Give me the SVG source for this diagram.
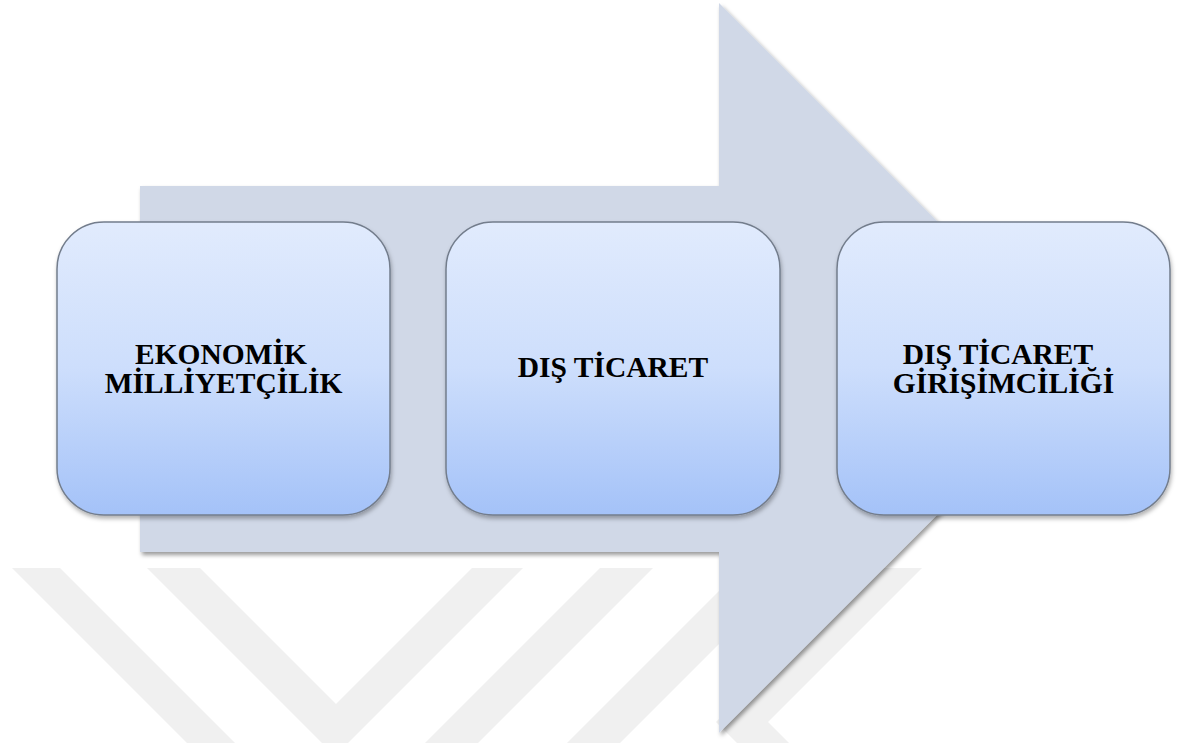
<svg xmlns="http://www.w3.org/2000/svg" width="1177" height="743" viewBox="0 0 1177 743">
  <style>
    .wm { fill: #f0f0f0; }
    .box { fill: url(#boxGrad); stroke: #737d8c; stroke-width: 1.5; filter: url(#boxShadow); }
    .lbl { font-family: "Liberation Serif", "Times New Roman", serif; font-weight: bold; font-size: 29.5px; fill: #000000; text-anchor: middle; }
  </style>
  <defs>
    <linearGradient id="boxGrad" x1="0" y1="0" x2="0" y2="1">
      <stop offset="0" stop-color="#e1ebfd"/>
      <stop offset="0.5" stop-color="#cddefc"/>
      <stop offset="1" stop-color="#a4c2f8"/>
    </linearGradient>
    <filter id="arrowShadow" x="-5%" y="-5%" width="115%" height="115%">
      <feDropShadow dx="2" dy="3" stdDeviation="2" flood-color="#000000" flood-opacity="0.4"/>
    </filter>
    <filter id="boxShadow" x="-5%" y="-5%" width="115%" height="115%">
      <feDropShadow dx="1" dy="3" stdDeviation="2" flood-color="#000000" flood-opacity="0.3"/>
    </filter>
  </defs>

  <rect x="0" y="0" width="1177" height="743" fill="#ffffff"/>

  <g id="watermark">
    <polygon class="wm" points="12,568 60,568 235,743 187,743"/>
    <polygon class="wm" points="147,568 200,568 336,704 472,568 523,568 335,756"/>
    <polygon class="wm" points="600,568 653,568 478,743 425,743"/>
    <polygon class="wm" points="742,568 795,568 620,743 567,743"/>
    <polygon class="wm" points="870,568 922,568 768,722 789,743 737,743 716,722"/>
  </g>

  <g id="connectors">
    <polygon id="big-arrow" points="140,186 719,186 719,3 1084,368 719,733 719,552 140,552" fill="#d0d8e7" filter="url(#arrowShadow)"/>
  </g>

  <g id="node-ekonomik">
    <rect class="box" x="57" y="222" width="333" height="293" rx="47" ry="47"/>
    <text class="lbl" x="221" y="364">EKONOMİK</text>
    <text class="lbl" x="223.5" y="393">MİLLİYETÇİLİK</text>
  </g>

  <g id="node-dis-ticaret">
    <rect class="box" x="446" y="222" width="334" height="293" rx="47" ry="47"/>
    <text class="lbl" x="613" y="377">DIŞ TİCARET</text>
  </g>

  <g id="node-girisimcilik">
    <rect class="box" x="837" y="222" width="333" height="293" rx="47" ry="47"/>
    <text class="lbl" x="998" y="364">DIŞ TİCARET</text>
    <text class="lbl" x="1003.5" y="393">GİRİŞİMCİLİĞİ</text>
  </g>
</svg>
